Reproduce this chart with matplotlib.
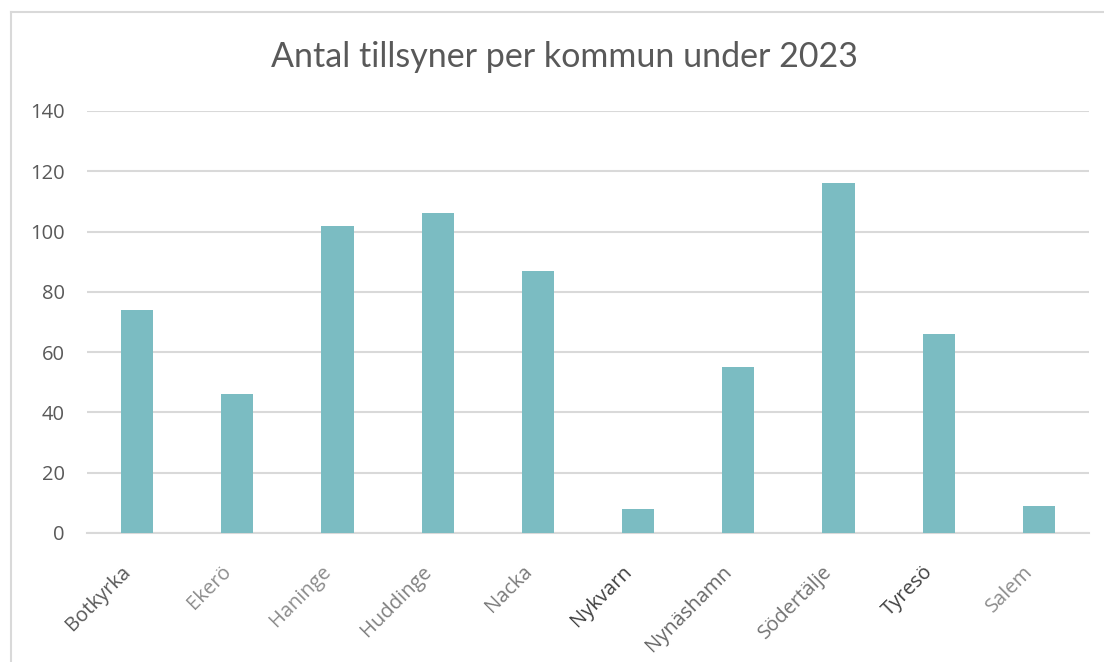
import matplotlib
matplotlib.use("Agg")
import matplotlib.pyplot as plt
from matplotlib.lines import Line2D
from matplotlib.transforms import ScaledTranslation

categories = ["Botkyrka", "Ekerö", "Haninge", "Huddinge", "Nacka",
              "Nykvarn", "Nynäshamn", "Södertälje", "Tyresö", "Salem"]
values = [74, 46, 102, 106, 87, 8, 55, 116, 66, 9]
label_colors = ["#595959", "#8c8c8c", "#8c8c8c", "#808080", "#7a7a7a",
                "#404040", "#666666", "#737373", "#404040", "#8c8c8c"]
yticks = [0, 20, 40, 60, 80, 100, 120, 140]
title = "Antal tillsyner per kommun under 2023"

W, H = 1104, 662
fig = plt.figure(figsize=(W / 100, H / 100), dpi=100)
ax = fig.add_axes([87 / W, 1 - 533 / H, (1089 - 87) / W, (533 - 111) / H])

x = list(range(len(categories)))
ax.bar(x, values, width=0.32, color="#7bbcc2", zorder=3)
ax.set_xlim(-0.5, len(categories) - 0.5)
ax.set_ylim(0, 140)
ax.set_yticks(yticks)
ax.set_yticklabels([str(t) for t in yticks], fontfamily="Open Sans",
                   fontsize=14.5, color="#595959")
ax.yaxis.grid(True, color="#d9d9d9", linewidth=1.5, zorder=0)
ax.tick_params(axis="y", length=0, pad=16)
ax.tick_params(axis="x", length=0, pad=26)
ax.set_xticks(x)
ax.set_xticklabels(categories, rotation=45, ha="right", va="center",
                   rotation_mode="anchor", fontfamily="Open Sans", fontsize=14.5)
shift = ScaledTranslation(-9 / 100, 0, fig.dpi_scale_trans)
for lbl, c in zip(ax.get_xticklabels(), label_colors):
    lbl.set_color(c)
    lbl.set_transform(lbl.get_transform() + shift)
for s in ["top", "right", "left"]:
    ax.spines[s].set_visible(False)
ax.spines["bottom"].set_color("#d9d9d9")
ax.spines["bottom"].set_linewidth(1.5)

fig.text(564 / W, 1 - 57 / H, title, ha="center", va="center",
         fontfamily="Lato", fontsize=24.5, color="#595959")

# outer chart frame (top and left edges visible)
fig.add_artist(Line2D([11 / W, 1.0], [1 - 12 / H, 1 - 12 / H],
                      transform=fig.transFigure, color="#d9d9d9", linewidth=1.5))
fig.add_artist(Line2D([11 / W, 11 / W], [0, 1 - 12 / H],
                      transform=fig.transFigure, color="#d9d9d9", linewidth=1.5))

fig.savefig("out.png", dpi=100)
